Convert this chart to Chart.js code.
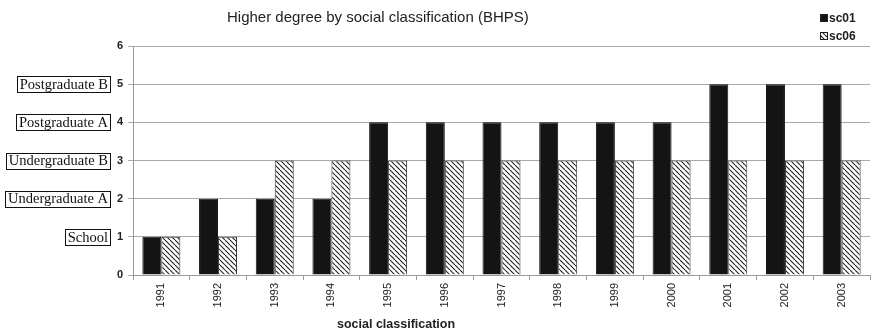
<!DOCTYPE html>
<html>
<head>
<meta charset="utf-8">
<script src="https://cdn.jsdelivr.net/npm/chart.js@4/dist/chart.umd.min.js"></script>
<style>
  html, body { margin: 0; padding: 0; background: #fff; }
  #wrap { width: 874px; height: 334px; }
</style>
</head>
<body>
<div id="wrap"><canvas id="c" width="874" height="334"></canvas></div>
<script>
// Survey years (categories)
const years = ['1991','1992','1993','1994','1995','1996','1997','1998','1999','2000','2001','2002','2003'];
// Highest qualification level per year for each social classification scheme
const sc01 = [1, 2, 2, 2, 4, 4, 4, 4, 4, 4, 5, 5, 5];
const sc06 = [1, 1, 3, 3, 3, 3, 3, 3, 3, 3, 3, 3, 3];
// Names of the qualification levels shown beside the value axis
const levelNames = ['School', 'Undergraduate A', 'Undergraduate B', 'Postgraduate A', 'Postgraduate B'];
const levelValues = [1, 2, 3, 4, 5];
const chartTitle = 'Higher degree by social classification (BHPS)';
const xTitle = 'social classification';

// Diagonal hatch fill for the second series
function makeHatch() {
  const p = document.createElement('canvas');
  p.width = 5; p.height = 5;
  const g = p.getContext('2d');
  g.fillStyle = '#ffffff';
  g.fillRect(0, 0, 5, 5);
  g.strokeStyle = '#222';
  g.lineWidth = 1.1;
  g.beginPath();
  for (let k = -5; k <= 10; k += 5) {
    g.moveTo(k, 0);
    g.lineTo(k + 5, 5);
  }
  g.stroke();
  return g.createPattern(p, 'repeat');
}
const ctx0 = document.getElementById('c').getContext('2d');
const hatch = makeHatch();

// Draws the title, legend, level boxes and x-axis caption
const decorations = {
  id: 'decorations',
  afterDraw(chart) {
    const ctx = chart.ctx;
    const yS = chart.scales.y;
    ctx.save();

    // title
    ctx.fillStyle = '#222';
    ctx.font = '15px "Liberation Sans", Arial, sans-serif';
    ctx.textAlign = 'left';
    ctx.textBaseline = 'middle';
    ctx.fillText(chartTitle, 227, 18);

    // legend
    ctx.font = 'bold 12px "Liberation Sans", Arial, sans-serif';
    ctx.textAlign = 'left';
    chart.data.datasets.forEach((ds, i) => {
      const y = 18 + i * 18;
      ctx.fillStyle = ds.backgroundColor;
      ctx.fillRect(820.5, y - 3.5, 7, 7);
      ctx.strokeStyle = '#222';
      ctx.lineWidth = 1;
      ctx.strokeRect(820.5, y - 3.5, 7, 7);
      ctx.fillStyle = '#222';
      ctx.fillText(ds.label, 829, y + 0.5);
    });

    // boxed level names
    ctx.font = '14.5px "Liberation Serif", "Times New Roman", serif';
    ctx.textAlign = 'right';
    ctx.textBaseline = 'middle';
    levelValues.forEach((v, i) => {
      const y = yS.getPixelForValue(v);
      const txt = levelNames[i];
      const w = ctx.measureText(txt).width;
      const right = 108;
      ctx.fillStyle = '#111';
      ctx.fillText(txt, right, y + 1);
      ctx.strokeStyle = '#111';
      ctx.lineWidth = 1;
      ctx.strokeRect(Math.round(right - w - 3) + 0.5, Math.round(y - 8) + 0.5, Math.round(w + 5), 16);
    });

    // x-axis caption
    ctx.fillStyle = '#222';
    ctx.font = 'bold 12.5px "Liberation Sans", Arial, sans-serif';
    ctx.textAlign = 'left';
    ctx.textBaseline = 'middle';
    ctx.fillText(xTitle, 337, 325);
    ctx.restore();
  }
};

new Chart(ctx0, {
  type: 'bar',
  data: {
    labels: years,
    datasets: [
      { label: 'sc01', data: sc01, backgroundColor: '#141414', borderColor: '#141414', borderWidth: 1 },
      { label: 'sc06', data: sc06, backgroundColor: hatch, borderColor: '#333', borderWidth: 1 }
    ]
  },
  options: {
    responsive: false,
    animation: false,
    devicePixelRatio: 1,
    layout: { padding: { top: 46, right: 4, left: 0, bottom: 0 } },
    datasets: { bar: { categoryPercentage: 0.67, barPercentage: 1.0 } },
    plugins: {
      legend: { display: false },
      title: { display: false },
      tooltip: { enabled: false }
    },
    scales: {
      x: {
        grid: { offset: true, drawOnChartArea: false, drawTicks: true, tickLength: 5, color: '#999' },
        border: { color: '#999', width: 1 },
        ticks: {
          minRotation: 90, maxRotation: 90, autoSkip: false, padding: 3,
          color: '#222', font: { family: '"Liberation Sans", Arial, sans-serif', size: 11 }
        },
        afterFit(s) { s.height = 59; }
      },
      y: {
        min: 0, max: 6,
        grid: { color: '#aaa', lineWidth: 1, tickLength: 5, drawTicks: true },
        border: { color: '#999', width: 1 },
        ticks: {
          stepSize: 1, padding: 5, color: '#222',
          font: { family: '"Liberation Sans", Arial, sans-serif', size: 11, weight: 'bold' }
        },
        afterFit(s) { s.width = 133; }
      }
    }
  },
  plugins: [decorations]
});
</script>
</body>
</html>
